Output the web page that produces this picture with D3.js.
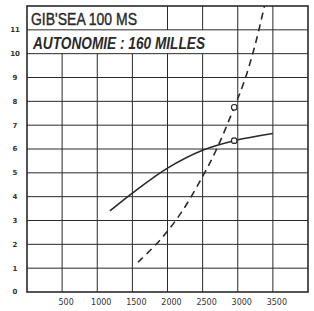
<!DOCTYPE html>
<html>
<head>
<meta charset="utf-8">
<script src="https://cdn.jsdelivr.net/npm/d3@7"></script>
<style>
  body { margin: 0; background: #fff; }
  svg { display: block; }
</style>
</head>
<body>
<div id="chart"></div>
<script>
// chart data (rpm vs speed / consumption)
var titleText = "GIB'SEA 100 MS";
var subtitleText = "AUTONOMIE : 160 MILLES";
var xTicks = [500, 1000, 1500, 2000, 2500, 3000, 3500];
var yTicks = [0, 1, 2, 3, 4, 5, 6, 7, 8, 9, 10, 11];
var solidRpm = [1180, 1500, 2000, 2500, 2950, 3500];
var solidVal = [3.4, 4.15, 5.2, 5.95, 6.35, 6.65];
var dashRpm = [1580, 1900, 2200, 2500, 2700, 2950, 3100, 3250, 3380];
var dashVal = [1.25, 2.2, 3.35, 4.85, 6.0, 7.75, 8.9, 10.4, 12.0];
var markRpm = [2950, 2950];
var markVal = [6.35, 7.75];

// set the dimensions and margins of the graph
var W = 314, H = 311;
var margin = {top: 6, right: 6, bottom: 19, left: 27},
    width = W - margin.left - margin.right,
    height = H - margin.top - margin.bottom;

var x = d3.scaleLinear().domain([0, 4000]).range([0, width]);
var y = d3.scaleLinear().domain([0, 12]).range([height, 0]);

var svg = d3.select("#chart").append("svg")
    .attr("width", W)
    .attr("height", H)
  .append("g")
    .attr("transform", "translate(" + margin.left + "," + margin.top + ")");

var ink = "#2a2a2a";

// horizontal grid lines
svg.selectAll(".hgrid")
    .data(yTicks.filter(function(d) { return d > 0; }))
  .enter().append("line")
    .attr("x1", 0).attr("x2", width)
    .attr("y1", function(d) { return y(d); })
    .attr("y2", function(d) { return y(d); })
    .style("stroke", ink).style("stroke-width", 1);

// vertical grid lines, broken where the title boxes sit
var vsegs = [];
xTicks.forEach(function(v) {
  if (v < 2000) {
    vsegs.push([v, 0, 10]);
  } else if (v <= 2500) {
    vsegs.push([v, 0, 10]);
    vsegs.push([v, 11, 12]);
  } else {
    vsegs.push([v, 0, 12]);
  }
});
svg.selectAll(".vgrid")
    .data(vsegs)
  .enter().append("line")
    .attr("x1", function(d) { return x(d[0]); })
    .attr("x2", function(d) { return x(d[0]); })
    .attr("y1", function(d) { return y(d[1]); })
    .attr("y2", function(d) { return y(d[2]); })
    .style("stroke", ink).style("stroke-width", 1);

// frame
svg.append("rect")
    .attr("width", width).attr("height", height)
    .style("fill", "none").style("stroke", ink).style("stroke-width", 1.6);

// titles
svg.append("text")
    .attr("x", 4).attr("y", y(11) - 5)
    .attr("textLength", 106).attr("lengthAdjust", "spacingAndGlyphs")
    .style("font-family", "Liberation Sans, Arial, sans-serif")
    .style("font-size", "17px")
    .style("fill", ink)
    .style("stroke", ink).style("stroke-width", 0.4)
    .text(titleText);

svg.append("text")
    .attr("x", 6).attr("y", y(10) - 5)
    .attr("textLength", 172).attr("lengthAdjust", "spacingAndGlyphs")
    .style("font-family", "Liberation Sans, Arial, sans-serif")
    .style("font-size", "16px")
    .style("font-weight", "bold")
    .style("font-style", "italic")
    .style("fill", ink)
    .text(subtitleText);

// curves
var line = d3.line()
    .x(function(d) { return x(d[0]); })
    .y(function(d) { return y(d[1]); })
    .curve(d3.curveCatmullRom);

svg.append("path")
    .datum(d3.zip(solidRpm, solidVal))
    .attr("d", line)
    .style("fill", "none").style("stroke", ink).style("stroke-width", 1.6);

svg.append("path")
    .datum(d3.zip(dashRpm, dashVal))
    .attr("d", line)
    .style("fill", "none").style("stroke", ink).style("stroke-width", 1.6)
    .style("stroke-dasharray", "7,5");

svg.selectAll(".mark")
    .data(d3.zip(markRpm, markVal))
  .enter().append("circle")
    .attr("cx", function(d) { return x(d[0]); })
    .attr("cy", function(d) { return y(d[1]); })
    .attr("r", 2.8)
    .style("fill", "#fff").style("stroke", ink).style("stroke-width", 1.2);

// tick labels
svg.selectAll(".ylab")
    .data(yTicks)
  .enter().append("text")
    .attr("x", -12)
    .attr("y", function(d) { return y(d); })
    .attr("dy", "0.35em")
    .style("text-anchor", "middle")
    .style("font-family", "DejaVu Sans, sans-serif")
    .style("font-size", "7px")
    .style("font-weight", "bold")
    .style("fill", "#333")
    .text(function(d) { return d; });

svg.selectAll(".xlab")
    .data(xTicks)
  .enter().append("text")
    .attr("x", function(d) { return x(d) + 4; })
    .attr("y", height + 13)
    .style("text-anchor", "middle")
    .style("font-family", "DejaVu Sans, sans-serif")
    .style("font-size", "8px")
    .style("fill", "#333")
    .text(function(d) { return d; });
</script>
</body>
</html>
